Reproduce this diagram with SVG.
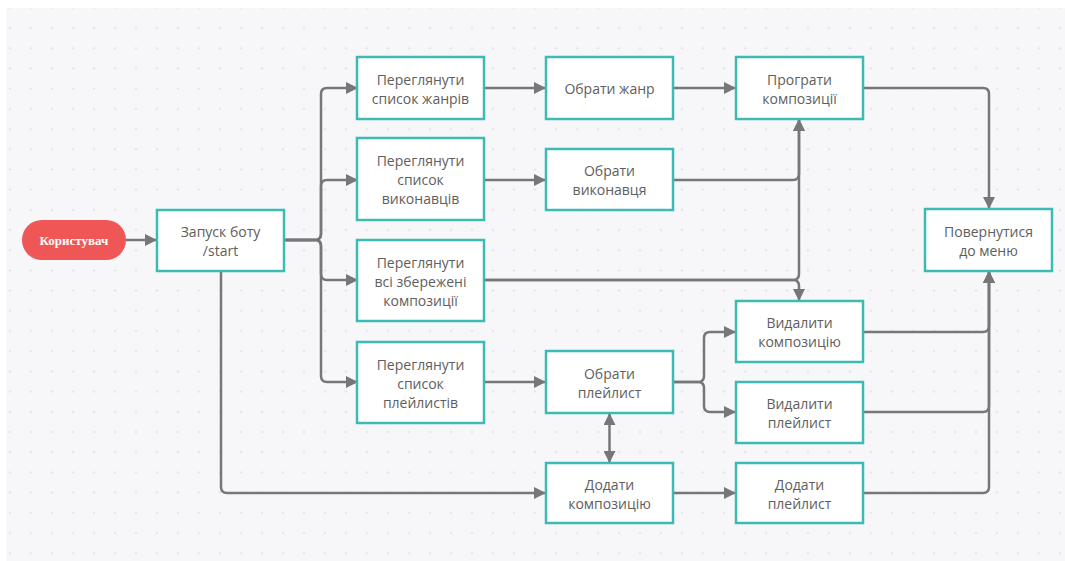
<svg xmlns="http://www.w3.org/2000/svg" width="1065" height="561" viewBox="0 0 1065 561">
<style>
.box{fill:#fff;stroke:#3dbab5;stroke-width:2.5}
.t{font-family:"Open Sans","Liberation Sans",sans-serif;font-size:14px;fill:#5e5e5e;text-anchor:middle;dominant-baseline:central}
.c{fill:none;stroke:#777;stroke-width:2.5}
.ua{marker-end:url(#ah)}
</style>
<defs>
<pattern id="dots" x="-0.5" y="17.9" width="21" height="20.2" patternUnits="userSpaceOnUse">
<circle cx="10.5" cy="10.1" r="1" fill="#d9d9de"/>
</pattern>
<marker id="ah" viewBox="0 0 10 10" refX="10" refY="5" markerWidth="12" markerHeight="12" markerUnits="userSpaceOnUse" orient="auto-start-reverse">
<path d="M0,0 L10,5 L0,10 z" fill="#777"/>
</marker>
</defs>
<rect x="0" y="0" width="1065" height="561" fill="#fff"/>
<rect x="6" y="8" width="1059" height="553" fill="#f7f7f9"/>
<rect x="6" y="8" width="1059" height="553" fill="url(#dots)"/>

<g id="connectors">
<path class="c ua" d="M126,240 H157"/>
<path class="c ua" d="M284,240 H315 Q321,240 321,234 V94 Q321,88 327,88 H358"/>
<path class="c ua" d="M284,240 H315 Q321,240 321,234 V186 Q321,180 327,180 H358"/>
<path class="c ua" d="M284,240 H315 Q321,240 321,246 V274 Q321,280 327,280 H358"/>
<path class="c ua" d="M284,240 H315 Q321,240 321,246 V376 Q321,382 327,382 H358"/>
<path class="c ua" d="M221,271 V487 Q221,493 227,493 H546"/>
<path class="c ua" d="M484,88 H546"/>
<path class="c ua" d="M673,88 H736"/>
<path class="c ua" d="M484,180 H546"/>
<path class="c ua" d="M673,180 H793 Q799,180 799,174 V119"/>
<path class="c ua" d="M484,280 H793 Q799,280 799,274 V119"/>
<path class="c ua" d="M484,280 H793 Q799,280 799,286 V301"/>
<path class="c ua" d="M484,382 H546"/>
<path class="c ua" d="M673,382 H698 Q704,382 704,376 V338 Q704,332 710,332 H736"/>
<path class="c ua" d="M673,382 H698 Q704,382 704,388 V406 Q704,412 710,412 H736"/>
<path class="c" d="M609.5,413 V463" style="marker-start:url(#ah);marker-end:url(#ah)"/>
<path class="c ua" d="M673,493 H736"/>
<path class="c ua" d="M863,88 H983 Q989,88 989,94 V209"/>
<path class="c ua" d="M863,332 H983 Q989,332 989,326 V271"/>
<path class="c ua" d="M863,412 H983 Q989,412 989,406 V271"/>
<path class="c ua" d="M863,493 H983 Q989,493 989,487 V271"/>
</g>

<g id="user">
<rect x="22" y="220" width="104" height="40" rx="20" fill="#ef5656"/>
<text x="74" y="240" style="font-family:'Liberation Serif',serif;font-size:13px;font-weight:bold;fill:#fff;text-anchor:middle;dominant-baseline:central">Користувач</text>
</g>
<g id="start">
<rect class="box" x="157" y="210" width="127" height="61"/>
<text class="t" x="220.5" y="231">Запуск боту</text>
<text class="t" x="220.5" y="250">/start</text>
</g>
<g id="genres">
<rect class="box" x="357" y="57" width="127" height="62"/>
<text class="t" x="420.5" y="79">Переглянути</text>
<text class="t" x="420.5" y="98">список жанрів</text>
</g>
<g id="artists">
<rect class="box" x="357" y="138" width="127" height="82"/>
<text class="t" x="420.5" y="160">Переглянути</text>
<text class="t" x="420.5" y="179">список</text>
<text class="t" x="420.5" y="198">виконавців</text>
</g>
<g id="saved">
<rect class="box" x="357" y="240" width="127" height="81"/>
<text class="t" x="420.5" y="262">Переглянути</text>
<text class="t" x="420.5" y="281">всі збережені</text>
<text class="t" x="420.5" y="300">композиції</text>
</g>
<g id="playlists">
<rect class="box" x="357" y="342" width="127" height="81"/>
<text class="t" x="420.5" y="364">Переглянути</text>
<text class="t" x="420.5" y="383">список</text>
<text class="t" x="420.5" y="402">плейлистів</text>
</g>
<g id="pickGenre">
<rect class="box" x="546" y="57" width="127" height="62"/>
<text class="t" x="609.5" y="88">Обрати жанр</text>
</g>
<g id="pickArtist">
<rect class="box" x="546" y="149" width="127" height="61"/>
<text class="t" x="609.5" y="170">Обрати</text>
<text class="t" x="609.5" y="189">виконавця</text>
</g>
<g id="pickPlaylist">
<rect class="box" x="546" y="351" width="127" height="62"/>
<text class="t" x="609.5" y="373">Обрати</text>
<text class="t" x="609.5" y="392">плейлист</text>
</g>
<g id="addTrack">
<rect class="box" x="546" y="463" width="127" height="60"/>
<text class="t" x="609.5" y="484">Додати</text>
<text class="t" x="609.5" y="503">композицію</text>
</g>
<g id="play">
<rect class="box" x="736" y="57" width="127" height="62"/>
<text class="t" x="799.5" y="79">Програти</text>
<text class="t" x="799.5" y="98">композиції</text>
</g>
<g id="delTrack">
<rect class="box" x="736" y="301" width="127" height="61"/>
<text class="t" x="799.5" y="322">Видалити</text>
<text class="t" x="799.5" y="341">композицію</text>
</g>
<g id="delPlaylist">
<rect class="box" x="736" y="382" width="127" height="61"/>
<text class="t" x="799.5" y="403">Видалити</text>
<text class="t" x="799.5" y="422">плейлист</text>
</g>
<g id="addPlaylist">
<rect class="box" x="736" y="463" width="127" height="60"/>
<text class="t" x="799.5" y="484">Додати</text>
<text class="t" x="799.5" y="503">плейлист</text>
</g>
<g id="menu">
<rect class="box" x="925" y="209" width="127" height="62"/>
<text class="t" x="988.5" y="231">Повернутися</text>
<text class="t" x="988.5" y="250">до меню</text>
</g>
</svg>
